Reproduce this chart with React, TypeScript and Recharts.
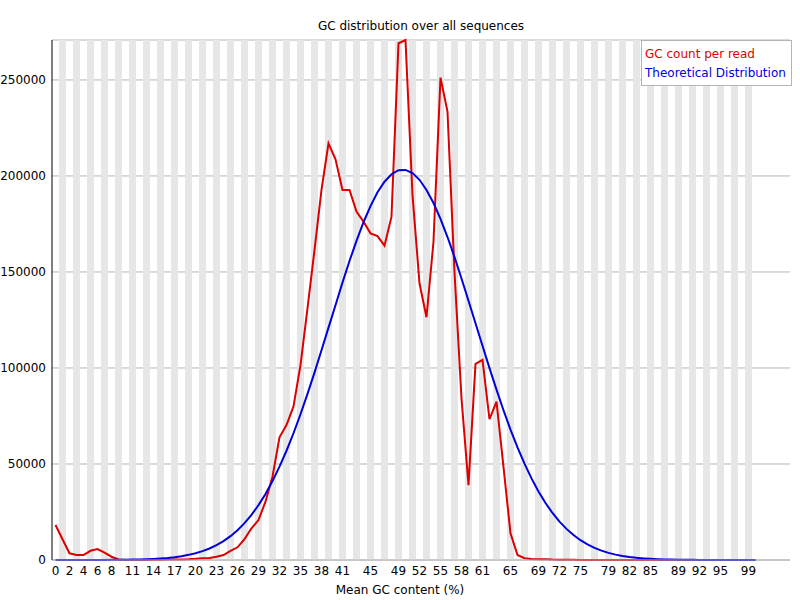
import { LineChart, Line, XAxis, YAxis, CartesianGrid, ReferenceArea } from "recharts";

// GC content bins (%)
const gcBins = [
    0, 1, 2, 3, 4, 5, 6, 7, 8, 9, 10, 11, 12, 13, 14, 15, 16, 17, 18, 19, 20,
    21, 22, 23, 24, 25, 26, 27, 28, 29, 30, 31, 32, 33, 34, 35, 36, 37, 38, 39, 40,
    41, 42, 43, 44, 45, 46, 47, 48, 49, 50, 51, 52, 53, 54, 55, 56, 57, 58, 59, 60,
    61, 62, 63, 64, 65, 66, 67, 68, 69, 70, 71, 72, 73, 74, 75, 76, 77, 78, 79, 80,
    81, 82, 83, 84, 85, 86, 87, 88, 89, 90, 91, 92, 93, 94, 95, 96, 97, 98, 99, 100,
];

const gcCount = [
    18200, 10800, 3500, 2600, 2600, 4800, 5700, 3800, 1700, 300, 100,
    50, 50, 50, 100, 150, 200, 250, 300, 400, 600,
    900, 1000, 1700, 2600, 4700, 6600, 10900, 16500, 20800, 30400,
    43400, 63900, 70300, 80000, 101500, 131100, 161400, 192700, 217000, 208700,
    192700, 192700, 181400, 176200, 170100, 168700, 163700, 178800, 269100, 270800,
    190100, 144100, 126400, 165800, 251200, 233500, 150000, 84200, 39000, 102100,
    104200, 73300, 82500, 48500, 13900, 2600, 900, 500, 400, 400,
    200, 100, 100, 80, 60, 50, 40, 30, 30, 20,
    20, 15, 10, 10, 5, 5, 5, 5, 0, 0,
    0, 0, 0, 0, 0, 0, 0, 0, 0, 0,
];

const theoretical = [
    0, 0, 0, 10, 10, 20, 30, 40, 70, 100, 140,
    200, 290, 410, 580, 800, 1100, 1490, 2010, 2680, 3540,
    4600, 6000, 7700, 9800, 12400, 15500, 19200, 23500, 28600, 34400,
    41100, 48600, 56900, 66000, 75900, 86500, 97600, 109200, 121000, 132700,
    144500, 155700, 166200, 175900, 184300, 191500, 197000, 200900, 203000, 203150,
    201500, 198000, 192700, 185900, 177600, 168200, 157800, 146600, 135000, 123300,
    111600, 99900, 88700, 78000, 67900, 58700, 50200, 42500, 35700, 29700,
    24500, 20000, 16200, 13000, 10300, 8100, 6300, 4900, 3700, 2800,
    2100, 1560, 1150, 840, 600, 430, 300, 210, 145, 100,
    70, 45, 30, 20, 13, 8, 5, 3, 2, 1,
];

const xTicks = [
    0, 2, 4, 6, 8, 11, 14, 17, 20, 23, 26, 29, 32, 35, 38, 41, 45, 49, 52, 55,
    58, 61, 65, 69, 72, 75, 79, 82, 85, 89, 92, 95, 99,
];

const yTicks = [0, 50000, 100000, 150000, 200000, 250000];

const data = gcBins.map((gc, i) => ({
    gc,
    count: gcCount[i],
    theory: theoretical[i],
}));

// every other bin gets a grey band (last bin has none)
const stripeBins = gcBins.filter((b) => b % 2 === 1);

const FONT = "'DejaVu Sans', sans-serif";

function LegendBox() {
    return (
        <div
            style={{
                position: "absolute",
                left: 641,
                top: 40,
                width: 144,
                border: "1px solid #B4B4B4",
                background: "#fff",
                padding: "4px 2px 2px 3px",
                fontFamily: FONT,
                fontSize: 12,
                lineHeight: "19px",
            }}
        >
            <div style={{ color: "#DC0000" }}>GC count per read</div>
            <div style={{ color: "#0000DC" }}>Theoretical Distribution</div>
        </div>
    );
}

export default function App() {
    return (
        <div
            style={{
                position: "absolute",
                left: 0,
                top: 0,
                width: 800,
                height: 600,
                background: "#fff",
                fontFamily: FONT,
            }}
        >
            <div
                style={{
                    position: "absolute",
                    left: 52,
                    width: 738,
                    top: 19,
                    textAlign: "center",
                    fontSize: 12,
                    color: "#000",
                }}
            >
                GC distribution over all sequences
            </div>
            <LineChart
                width={800}
                height={600}
                data={data}
                margin={{ top: 40, right: 10, left: 0, bottom: 0 }}
            >
                {stripeBins.map((b) => (
                    <ReferenceArea
                        key={b}
                        x1={b - 0.5}
                        x2={b + 0.5}
                        fill="#E6E6E6"
                        fillOpacity={1}
                        stroke="none"
                        ifOverflow="visible"
                    />
                ))}
                <CartesianGrid vertical={false} stroke="#B4B4B4" strokeDasharray="" />
                <XAxis
                    type="number"
                    dataKey="gc"
                    domain={[-0.5, 104.93]}
                    ticks={xTicks}
                    interval={0}
                    tickLine={false}
                    axisLine={{ stroke: "#B4B4B4" }}
                    tick={{ fill: "#000", fontSize: 12, fontFamily: FONT }}
                    tickMargin={0}
                    height={40}
                    allowDataOverflow
                />
                <YAxis
                    domain={[0, "dataMax"]}
                    ticks={yTicks}
                    interval={0}
                    tickLine={false}
                    axisLine={{ stroke: "#000" }}
                    tick={{ fill: "#000", fontSize: 12, fontFamily: FONT }}
                    tickMargin={0}
                    width={52}
                />
                <Line
                    type="linear"
                    dataKey="count"
                    stroke="#DC0000"
                    strokeWidth={2}
                    dot={false}
                    isAnimationActive={false}
                />
                <Line
                    type="linear"
                    dataKey="theory"
                    stroke="#0000DC"
                    strokeWidth={2}
                    dot={false}
                    isAnimationActive={false}
                />
            </LineChart>
            <LegendBox />
            <div
                style={{
                    position: "absolute",
                    left: 0,
                    width: 800,
                    top: 583,
                    textAlign: "center",
                    fontSize: 12,
                    color: "#000",
                }}
            >
                Mean GC content (%)
            </div>
        </div>
    );
}
